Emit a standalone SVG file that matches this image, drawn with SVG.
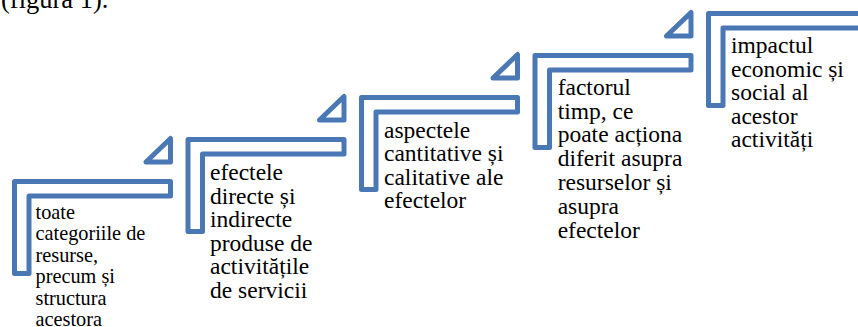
<svg xmlns="http://www.w3.org/2000/svg" width="858" height="327" viewBox="0 0 858 327">
<style>
.shape{fill:none;stroke:#4A78B4;stroke-width:5;stroke-linejoin:round}
text{font-family:'Liberation Serif','Times New Roman',serif;fill:#000}
.big{font-size:23.5px}
.small{font-size:20.3px}
</style>
<rect width="858" height="327" fill="#fff"/>
<text x="1" y="7.5" font-size="26.5">(figura 1).</text>
<g id="step1">
<polygon class="shape" points="14.5,181.5 170.5,181.5 170.5,196 29,196 29,273.5 14.5,273.5"/>
<polygon class="shape" points="170.5,138.5 170.5,162 146,162"/>
<text class="small"><tspan x="35.5" y="218.5">toate</tspan><tspan x="35.5" y="240">categoriile de</tspan><tspan x="35.5" y="261.5">resurse,</tspan><tspan x="35.5" y="283">precum și</tspan><tspan x="35.5" y="304.5">structura</tspan><tspan x="35.5" y="326">acestora</tspan></text>
</g>
<g id="step2">
<polygon class="shape" points="188,139.5 344,139.5 344,154 202.5,154 202.5,231.5 188,231.5"/>
<polygon class="shape" points="344,96.5 344,120 319.5,120"/>
<text class="big"><tspan x="210" y="180">efectele</tspan><tspan x="210" y="203.5">directe și</tspan><tspan x="210" y="227">indirecte</tspan><tspan x="210" y="250.5">produse de</tspan><tspan x="210" y="274">activitățile</tspan><tspan x="210" y="297.5">de servicii</tspan></text>
</g>
<g id="step3">
<polygon class="shape" points="361.5,97.5 517.5,97.5 517.5,112 376,112 376,189.5 361.5,189.5"/>
<polygon class="shape" points="517.5,54.5 517.5,78 493,78"/>
<text class="big"><tspan x="384" y="137.5">aspectele</tspan><tspan x="384" y="161">cantitative și</tspan><tspan x="384" y="184.5">calitative ale</tspan><tspan x="384" y="208">efectelor</tspan></text>
</g>
<g id="step4">
<polygon class="shape" points="535,55.5 691,55.5 691,70 549.5,70 549.5,147.5 535,147.5"/>
<polygon class="shape" points="691,12.5 691,36 666.5,36"/>
<text class="big"><tspan x="557.7" y="95">factorul</tspan><tspan x="557.7" y="118.7">timp, ce</tspan><tspan x="557.7" y="142.4">poate acționa</tspan><tspan x="557.7" y="166.1">diferit asupra</tspan><tspan x="557.7" y="189.8">resurselor și</tspan><tspan x="557.7" y="213.5">asupra</tspan><tspan x="557.7" y="237.5">efectelor</tspan></text>
</g>
<g id="step5">
<polygon class="shape" points="708.5,13.5 864.5,13.5 864.5,28 723,28 723,105.5 708.5,105.5"/>
<text class="big"><tspan x="731" y="53">impactul</tspan><tspan x="731" y="76.5">economic și</tspan><tspan x="731" y="100">social al</tspan><tspan x="731" y="123.5">acestor</tspan><tspan x="731" y="147">activități</tspan></text>
</g>
<g id="connectors"/>
</svg>
